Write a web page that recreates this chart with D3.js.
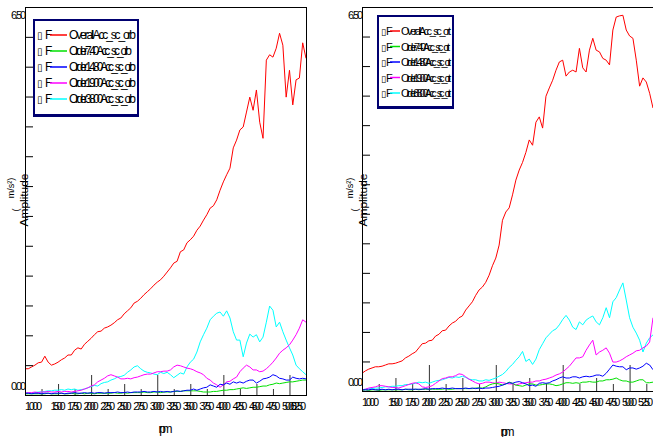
<!DOCTYPE html>
<html>
<head>
<meta charset="utf-8">
<style>
body { margin: 0; background: #fff; font-family: "Liberation Sans", Arial, sans-serif; }
svg text { fill: #000; }
</style>
</head>
<body>
<script src="https://cdn.jsdelivr.net/npm/d3@7/dist/d3.min.js"></script>
<script>
var width = 653, height = 437;

// x samples (rpm) of each panel
var rpmLeft = d3.range(1000, 5251, 50);
var rpmRight = d3.range(1000, 5351, 50);

// left panel (m/s^2)
var leftOverall = [0.44,0.44,0.47,0.50,0.54,0.55,0.65,0.55,0.50,0.52,
  0.55,0.59,0.62,0.67,0.67,0.75,0.79,0.77,0.85,0.90,
  0.95,1.01,1.06,1.07,1.12,1.14,1.17,1.21,1.26,1.29,
  1.36,1.41,1.46,1.54,1.57,1.62,1.68,1.73,1.78,1.84,
  1.89,1.93,1.99,2.06,2.13,2.21,2.24,2.40,2.43,2.55,
  2.60,2.66,2.76,2.83,2.93,3.02,3.13,3.17,3.27,3.43,
  3.57,3.69,3.80,4.14,4.27,4.44,4.49,4.74,4.99,4.77,
  5.11,4.57,4.30,5.61,5.70,5.66,5.81,6.06,5.86,4.99,
  5.44,4.86,5.28,5.31,5.90,5.64];
var leftOrder740 = [0.02,0.02,0.02,0.02,0.02,0.02,0.02,0.03,0.02,0.02,
  0.02,0.03,0.02,0.02,0.03,0.02,0.02,0.03,0.02,0.03,
  0.03,0.02,0.03,0.03,0.03,0.03,0.03,0.04,0.03,0.03,
  0.04,0.03,0.04,0.04,0.04,0.04,0.05,0.04,0.04,0.05,
  0.05,0.04,0.05,0.05,0.05,0.06,0.06,0.06,0.07,0.07,
  0.07,0.07,0.07,0.06,0.05,0.05,0.05,0.06,0.06,0.07,
  0.08,0.08,0.09,0.09,0.10,0.11,0.12,0.11,0.12,0.13,
  0.13,0.14,0.15,0.15,0.17,0.18,0.20,0.19,0.20,0.21,
  0.22,0.22,0.23,0.24,0.25,0.25];
var leftOrder1480 = [0.03,0.03,0.02,0.03,0.03,0.02,0.03,0.03,0.02,0.03,
  0.03,0.03,0.02,0.03,0.03,0.04,0.03,0.03,0.04,0.03,
  0.04,0.03,0.04,0.04,0.03,0.04,0.04,0.04,0.05,0.04,
  0.04,0.05,0.04,0.05,0.05,0.05,0.06,0.05,0.05,0.06,
  0.05,0.06,0.05,0.06,0.05,0.06,0.07,0.06,0.07,0.08,
  0.08,0.10,0.08,0.10,0.12,0.13,0.17,0.15,0.13,0.18,
  0.17,0.20,0.18,0.22,0.20,0.22,0.20,0.23,0.25,0.25,
  0.20,0.23,0.27,0.28,0.30,0.34,0.32,0.28,0.27,0.25,
  0.25,0.30,0.28,0.27,0.28,0.27];
var leftOrder1900 = [0.03,0.04,0.04,0.05,0.04,0.05,0.05,0.06,0.05,0.05,
  0.06,0.05,0.06,0.06,0.05,0.06,0.07,0.08,0.10,0.12,
  0.15,0.17,0.22,0.25,0.28,0.32,0.34,0.32,0.30,0.27,
  0.27,0.28,0.27,0.29,0.30,0.32,0.34,0.35,0.35,0.37,
  0.39,0.39,0.40,0.40,0.42,0.47,0.50,0.49,0.47,0.45,
  0.44,0.42,0.39,0.37,0.34,0.28,0.25,0.20,0.17,0.13,
  0.17,0.22,0.23,0.27,0.30,0.39,0.45,0.50,0.47,0.42,
  0.42,0.39,0.40,0.44,0.49,0.55,0.62,0.70,0.75,0.79,
  0.84,0.92,1.01,1.12,1.26,1.22];
var leftOrder3800 = [0.03,0.03,0.03,0.04,0.05,0.05,0.06,0.07,0.07,0.08,
  0.08,0.09,0.08,0.10,0.09,0.10,0.08,0.09,0.10,0.12,
  0.14,0.16,0.15,0.19,0.21,0.22,0.25,0.27,0.30,0.31,
  0.33,0.38,0.42,0.47,0.49,0.44,0.40,0.38,0.37,0.35,
  0.34,0.38,0.36,0.38,0.34,0.29,0.33,0.37,0.35,0.47,
  0.55,0.60,0.72,0.89,1.01,1.12,1.26,1.32,1.37,1.39,
  1.32,1.41,1.29,1.06,0.92,0.92,0.64,0.87,1.02,0.97,
  1.01,0.89,0.97,1.22,1.49,1.42,1.14,1.22,1.06,0.92,
  0.79,0.67,0.50,0.44,0.39,0.34];

// right panel (m/s^2)
var rightOverall = [0.30,0.34,0.37,0.39,0.41,0.41,0.42,0.44,0.46,0.46,
  0.47,0.49,0.51,0.56,0.59,0.63,0.66,0.73,0.80,0.81,
  0.85,0.86,0.93,0.96,1.02,1.03,1.10,1.15,1.18,1.24,
  1.27,1.37,1.44,1.51,1.62,1.71,1.76,1.84,1.96,2.12,
  2.25,2.47,2.89,3.03,3.10,3.32,3.57,3.74,3.87,4.04,
  4.25,4.16,4.55,4.64,4.45,4.99,5.13,5.26,5.43,5.57,
  5.60,5.33,5.40,5.43,5.40,5.80,5.47,5.40,5.77,5.97,
  5.77,5.74,5.63,5.60,5.52,6.11,6.33,6.35,6.36,6.11,
  6.01,5.97,5.60,5.16,5.30,5.23,5.04,4.79];
var rightOrder740 = [0.01,0.02,0.01,0.02,0.02,0.01,0.02,0.02,0.02,0.02,
  0.02,0.02,0.02,0.03,0.02,0.02,0.03,0.02,0.03,0.03,
  0.03,0.03,0.03,0.03,0.03,0.04,0.03,0.03,0.04,0.04,
  0.04,0.04,0.04,0.04,0.05,0.05,0.05,0.07,0.10,0.12,
  0.13,0.12,0.10,0.12,0.15,0.13,0.10,0.09,0.08,0.10,
  0.12,0.12,0.10,0.10,0.11,0.12,0.12,0.11,0.09,0.10,
  0.12,0.14,0.14,0.13,0.14,0.13,0.15,0.15,0.16,0.15,
  0.15,0.17,0.17,0.19,0.19,0.20,0.22,0.19,0.17,0.17,
  0.15,0.15,0.17,0.19,0.19,0.14,0.14,0.15];
var rightOrder1480 = [0.02,0.02,0.02,0.03,0.02,0.02,0.03,0.02,0.03,0.02,
  0.03,0.03,0.02,0.03,0.03,0.03,0.03,0.03,0.03,0.04,
  0.03,0.04,0.04,0.04,0.05,0.04,0.04,0.05,0.04,0.04,
  0.04,0.05,0.04,0.05,0.04,0.05,0.04,0.05,0.05,0.06,
  0.07,0.08,0.10,0.12,0.14,0.13,0.15,0.16,0.14,0.12,
  0.09,0.10,0.08,0.13,0.14,0.13,0.14,0.17,0.19,0.22,
  0.24,0.22,0.22,0.24,0.24,0.22,0.24,0.25,0.24,0.25,
  0.27,0.27,0.25,0.30,0.37,0.44,0.42,0.41,0.41,0.36,
  0.39,0.39,0.37,0.39,0.42,0.47,0.44,0.36];
var rightOrder1900 = [0.02,0.03,0.05,0.06,0.07,0.09,0.09,0.08,0.07,0.06,
  0.06,0.05,0.07,0.09,0.11,0.13,0.14,0.12,0.07,0.06,
  0.07,0.09,0.13,0.17,0.21,0.22,0.24,0.24,0.26,0.29,
  0.28,0.24,0.20,0.17,0.14,0.12,0.13,0.15,0.15,0.14,
  0.13,0.15,0.14,0.13,0.12,0.12,0.10,0.12,0.13,0.14,
  0.15,0.15,0.17,0.17,0.19,0.20,0.22,0.24,0.27,0.29,
  0.32,0.37,0.42,0.49,0.56,0.56,0.58,0.69,0.78,0.86,
  0.61,0.66,0.69,0.73,0.64,0.49,0.49,0.51,0.54,0.58,
  0.61,0.64,0.68,0.69,0.73,0.76,0.83,1.24];
var rightOrder3800 = [0.02,0.03,0.04,0.04,0.05,0.05,0.06,0.07,0.07,0.08,
  0.08,0.09,0.09,0.11,0.11,0.12,0.13,0.15,0.14,0.15,
  0.13,0.15,0.17,0.18,0.19,0.21,0.23,0.22,0.24,0.23,
  0.25,0.23,0.20,0.19,0.19,0.17,0.17,0.19,0.18,0.20,
  0.22,0.25,0.28,0.33,0.40,0.45,0.52,0.58,0.67,0.50,
  0.54,0.45,0.54,0.70,0.80,0.90,0.96,1.02,1.05,1.12,
  1.21,1.28,1.20,1.08,1.04,1.17,1.12,1.20,1.24,1.27,
  1.17,1.12,1.24,1.41,1.24,1.51,1.58,1.71,1.83,1.54,
  1.24,1.08,0.98,0.86,0.66,0.81,0.90,0.95];

var seriesNames = ["Overall", "Order 7.40", "Order 14.80", "Order 19.00", "Order 38.00"];
var seriesColors = ["#ff0000", "#00e000", "#0000ff", "#ff00ff", "#00ffff"];
var drawOrder = [4, 3, 1, 2, 0];

var xTickValues = d3.range(1000, 5251, 250);
var yTickValues = [0.5, 1, 1.5, 2, 2.5, 3, 3.5, 4, 4.5, 5, 5.5, 6];
var yLabelValues = [0, 6.5];

var svg = d3.select("body").append("svg")
    .attr("width", width)
    .attr("height", height);

var panels = [
  { rpm: rpmLeft, data: [leftOverall, leftOrder740, leftOrder1480, leftOrder1900, leftOrder3800],
    left: 25, right: 306, top: 7, bottom: 395, xMax: 5250, tickH: [20, 11, 6],
    suffix: " Acc_sc_orb", legend: { x: 34, y: 20, w: 104, h: 95, row: 16, font: 12, textW: [67, 63, 67, 67, 67] },
    ampX: 24, unitX: 11, rpmY: 433 },
  { rpm: rpmRight, data: [rightOverall, rightOrder740, rightOrder1480, rightOrder1900, rightOrder3800],
    left: 362, right: 653, top: 7, bottom: 391, xMax: 5350, tickH: [26, 13, 7],
    suffix: " Acc_sc_ort", legend: { x: 378, y: 16, w: 75, h: 91, row: 15.5, font: 11, textW: [50, 49, 50, 50, 50] },
    ampX: 363, unitX: 350, rpmY: 436 }
];

panels.forEach(function(p, pi) {

  var x = d3.scaleLinear().domain([1000, p.xMax]).range([p.left, p.right]);
  var y = d3.scaleLinear().domain([0, 6.5]).range([p.bottom, p.top]);
  var g = svg.append("g");

  var clipId = "clip" + pi;
  svg.append("clipPath").attr("id", clipId)
    .append("rect")
      .attr("x", p.left).attr("y", p.top)
      .attr("width", p.right - p.left).attr("height", p.bottom - p.top);

  // x ticks rising from the bottom axis
  g.selectAll(".xtick").data(xTickValues.filter(function(v) { return v > 1000 && x(v) < p.right; }))
    .enter().append("line")
      .attr("x1", function(d) { return x(d) + 0.5; })
      .attr("x2", function(d) { return x(d) + 0.5; })
      .attr("y1", p.bottom)
      .attr("y2", function(d) {
        var h = d % 1000 == 0 ? p.tickH[0] : (d % 500 == 0 ? p.tickH[1] : p.tickH[2]);
        return p.bottom - h;
      })
      .attr("stroke", "#333").attr("stroke-width", 1);

  // series
  var line = d3.line()
      .x(function(d, i) { return x(p.rpm[i]); })
      .y(function(d) { return y(d); });

  var lines = g.append("g").attr("clip-path", "url(#" + clipId + ")");
  drawOrder.forEach(function(k) {
    lines.append("path")
        .attr("d", line(p.data[k]))
        .attr("fill", "none")
        .attr("stroke", seriesColors[k])
        .attr("stroke-width", 1);
  });

  // y axis with inward ticks
  var yAxis = d3.axisRight(y).tickValues(yTickValues).tickSize(8).tickFormat("");
  g.append("g").attr("transform", "translate(" + p.left + ",0)").call(yAxis)
    .call(function(s) { s.select(".domain").remove(); s.selectAll("line").attr("stroke", "#000"); });

  // frame
  g.append("rect")
      .attr("x", p.left + 0.5).attr("y", p.top + 0.5)
      .attr("width", p.right - p.left).attr("height", p.bottom - p.top)
      .attr("fill", "none").attr("stroke", "#000").attr("stroke-width", 1);

  // y labels (squeezed like the source export)
  g.selectAll(".ylab").data(yLabelValues).enter().append("text")
      .attr("x", p.left + 1)
      .attr("y", function(d) { return d == 0 ? y(d) - 5 : y(d) + 12; })
      .attr("text-anchor", "end")
      .attr("font-size", 11)
      .attr("textLength", 15).attr("lengthAdjust", "spacing")
      .text(function(d) { return d3.format(".2f")(d); });

  // x labels
  g.selectAll(".xlab").data(xTickValues.filter(function(v) { return v != 1250; })).enter().append("text")
      .attr("x", function(d) {
        var cx = x(d);
        return Math.max(p.left + 8.5, Math.min(p.right - 7.5, cx));
      })
      .attr("y", p.bottom + 15)
      .attr("text-anchor", "middle")
      .attr("font-size", 11)
      .attr("textLength", function(d) { return d == 1000 ? 17 : 15; })
      .attr("lengthAdjust", "spacing")
      .text(function(d) { return d; });

  // axis titles
  g.append("text")
      .attr("transform", "translate(" + (p.left + p.right) / 2 + "," + p.rpmY + ")")
      .attr("text-anchor", "middle").attr("font-size", 12)
      .attr("textLength", 14).attr("lengthAdjust", "spacing")
      .text("rpm");
  g.append("text")
      .attr("transform", "translate(" + (p.ampX + 4) + ",200) rotate(-90)")
      .attr("text-anchor", "middle").attr("font-size", 11)
      .attr("textLength", 53).attr("lengthAdjust", "spacingAndGlyphs")
      .text("Amplitude");
  g.append("text")
      .attr("transform", "translate(" + (p.unitX + 3) + ",188) rotate(-90)")
      .attr("text-anchor", "middle").attr("font-size", 9)
      .text("m/s\u00B2)");
  g.append("text")
      .attr("transform", "translate(" + (p.unitX + 8) + ",210) rotate(-90)")
      .attr("text-anchor", "middle").attr("font-size", 9)
      .text("(");

  // legend
  var L = p.legend;
  var lg = g.append("g");
  lg.append("rect")
      .attr("x", L.x).attr("y", L.y).attr("width", L.w).attr("height", L.h)
      .attr("fill", "#fff").attr("stroke", "#000070").attr("stroke-width", 2);
  lg.append("line")
      .attr("x1", L.x - 1).attr("x2", L.x + L.w + 1)
      .attr("y1", L.y + L.h + 1).attr("y2", L.y + L.h + 1)
      .attr("stroke", "#000070").attr("stroke-width", 2);

  seriesNames.forEach(function(name, i) {
    var cy = L.y + 15 + i * L.row;
    var small = L.font < 12;
    lg.append("text")
        .attr("x", L.x + 3).attr("y", cy + 4)
        .attr("font-size", L.font - 2)
        .attr("font-family", "DejaVu Sans")
        .text("\u25AF");
    lg.append("text")
        .attr("x", L.x + (small ? 8 : 11)).attr("y", cy + 4)
        .attr("font-size", L.font)
        .text("F");
    lg.append("line")
        .attr("x1", L.x + (small ? 12 : 16)).attr("x2", L.x + (small ? 22 : 33))
        .attr("y1", cy).attr("y2", cy)
        .attr("stroke", seriesColors[i]).attr("stroke-width", 1.5);
    lg.append("text")
        .attr("x", L.x + (small ? 23 : 35)).attr("y", cy + 4)
        .attr("font-size", L.font)
        .attr("textLength", L.textW[i]).attr("lengthAdjust", "spacing")
        .text(name + p.suffix);
  });

});
</script>
</body>
</html>
